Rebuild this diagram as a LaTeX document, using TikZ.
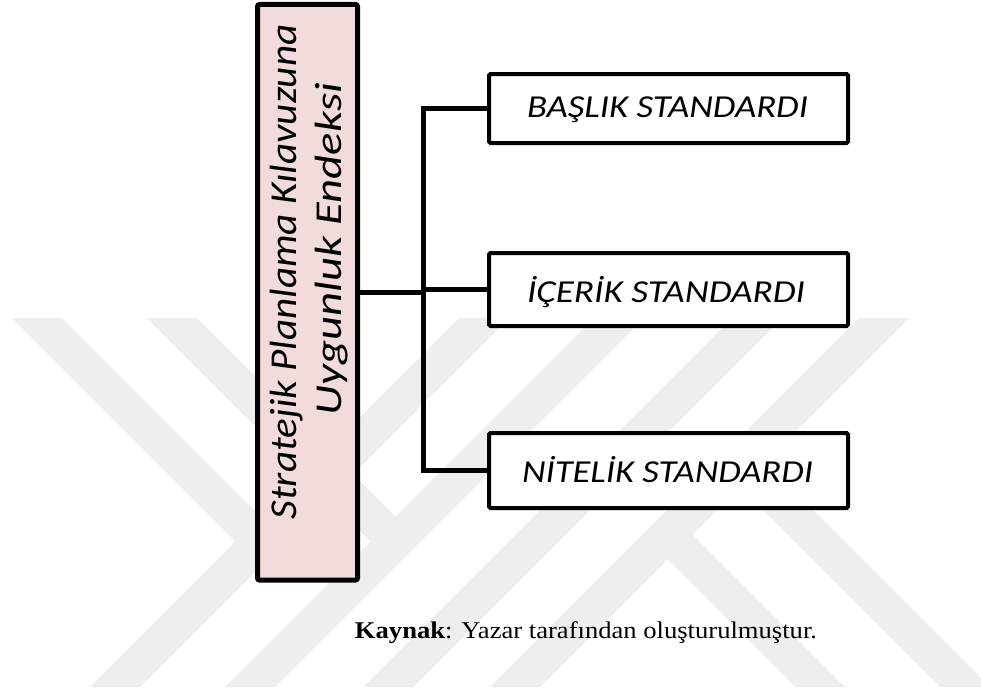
\documentclass[tikz,border=0pt]{standalone}
\usepackage{fontspec}
\usepackage{graphicx}
\newfontfamily\calfont{Carlito}
\newfontfamily\timesfont{Liberation Serif}
\definecolor{pinkfill}{RGB}{242,220,219}
\definecolor{wmgray}{RGB}{238,238,238}
\newcommand{\fitw}[2]{\resizebox{#1}{\height}{#2}}
\begin{document}
\begin{tikzpicture}[x=1pt,y=-1pt,
  wm/.style={fill=wmgray},
  mainbx/.style={draw=black,line width=5pt,fill=pinkfill,rounded corners=2pt,inner sep=0pt},
  stdbox/.style={draw=black,line width=4pt,fill=white,rounded corners=1.5pt,inner sep=0pt,
    minimum width=359pt},
  stdtxt/.style={inner sep=0pt,font=\calfont\itshape\fontsize{32}{36}\selectfont},
  maintxt/.style={rotate=90,anchor=base,inner sep=0pt,font=\calfont\itshape\fontsize{38}{45}\selectfont},
  conn/.style={draw=black,line width=4.5pt,line join=miter}]
\useasboundingbox (0,0) rectangle (981,693);
\fill[white] (0,0) rectangle (981,693);
% watermark
\begin{scope}
\clip (0,0) rectangle (981,693);
\fill[wm] (90,687) -- (140,687) -- (509,318) -- (459,318) -- cycle;
\fill[wm] (225,687) -- (275,687) -- (644,318) -- (594,318) -- cycle;
\fill[wm] (363,687) -- (413,687) -- (782,318) -- (732,318) -- cycle;
\fill[wm] (490,687) -- (540,687) -- (909,318) -- (859,318) -- cycle;
\fill[wm] (12,318) -- (62,318) -- (285.5,541.5) -- (235.5,541.5) -- cycle;
\fill[wm] (147,318) -- (197,318) -- (420.5,541.5) -- (370.5,541.5) -- cycle;
\fill[wm] (795,687) -- (845,687) -- (692.5,534.5) -- (642.5,534.5) -- cycle;
\fill[wm] (940,687) -- (990,687) -- (765,462) -- (715,462) -- cycle;
\end{scope}
% main vertical box
\node[mainbx,minimum width=100pt,minimum height=575.5pt] (mainbox) at (307.5,292.25) {};
\node[maintxt] (mainA) at (296,272) {\fitw{495pt}{Stratejik Planlama Kılavuzuna}};
\node[maintxt] (mainB) at (341,249) {\fitw{332pt}{Uygunluk Endeksi}};
% standard boxes
\node[stdbox,minimum height=69pt] (b1) at (668.5,108.5) {};
\node[stdbox,minimum height=73pt] (b2) at (668.5,289.5) {};
\node[stdbox,minimum height=75pt] (b3) at (668.5,470.5) {};
\node[stdtxt] (t1) at (667.5,110) {\fitw{281pt}{BAŞLIK STANDARDI}};
\node[stdtxt] (t2) at (666,292) {\fitw{278pt}{İÇERİK STANDARDI}};
\node[stdtxt] (t3) at (667.5,470) {\fitw{291pt}{NİTELİK STANDARDI}};
% connectors
\coordinate (trunk) at (423.5,0);
\draw[conn] (b1.west) -- (b1.west -| trunk) -- (b3.west -| trunk) -- (b3.west);
\draw[conn] (b2.west) -- (b2.west -| trunk);
\draw[conn] (mainbox.east) -- (mainbox.east -| trunk);
% caption
\node[anchor=base,inner sep=0pt,font=\timesfont\fontsize{24}{28}\selectfont] (cap) at (586,638)
  {\fitw{462pt}{\textbf{Kaynak}: Yazar tarafından oluşturulmuştur.}};
\end{tikzpicture}
\end{document}
